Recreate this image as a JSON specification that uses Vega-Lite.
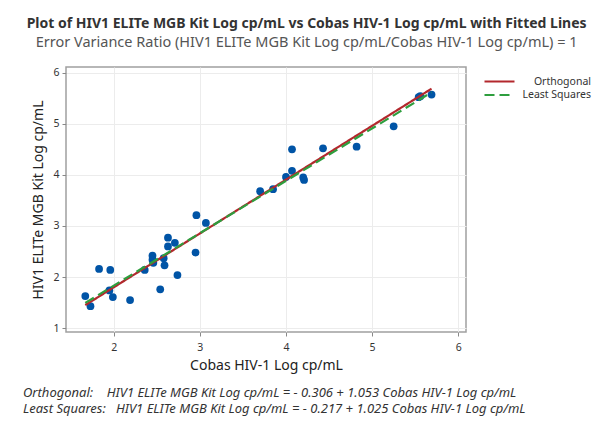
{
  "$schema": "https://vega.github.io/schema/vega-lite/v6.json",
  "background": "white",
  "padding": {"left": 22, "top": 16, "right": 5, "bottom": 5},
  "title": {
    "text": "Plot of HIV1 ELITe MGB Kit Log cp/mL vs Cobas HIV-1 Log cp/mL with Fitted Lines",
    "subtitle": "Error Variance Ratio (HIV1 ELITe MGB Kit Log cp/mL/Cobas HIV-1 Log cp/mL) = 1",
    "anchor": "middle",
    "fontSize": 14,
    "fontWeight": "bold",
    "color": "#333333",
    "subtitleFontSize": 14.5,
    "subtitleColor": "#555555",
    "subtitlePadding": 5,
    "offset": 17,
    "font": "Noto Sans",
    "subtitleFont": "Noto Sans"
  },
  "vconcat": [
    {
      "width": 400,
      "height": 265,
      "title": {
        "text": [
          "Orthogonal:\u00a0\u00a0\u00a0 HIV1 ELITe MGB Kit Log cp/mL = - 0.306 + 1.053 Cobas HIV-1 Log cp/mL",
          "Least Squares:\u00a0\u00a0 HIV1 ELITe MGB Kit Log cp/mL = - 0.217 + 1.025 Cobas HIV-1 Log cp/mL"
        ],
        "orient": "bottom",
        "anchor": "start",
        "frame": "bounds",
        "dx": -9,
        "fontSize": 13,
        "fontStyle": "italic",
        "fontWeight": "normal",
        "color": "#333333",
        "font": "Noto Sans",
        "lineHeight": 16.5,
        "offset": 14
      },
      "layer": [
        {
          "data": {
            "values": [
              {"cobas": 1.67, "elite": 1.63},
              {"cobas": 1.73, "elite": 1.43},
              {"cobas": 1.83, "elite": 2.16},
              {"cobas": 1.96, "elite": 2.14},
              {"cobas": 1.95, "elite": 1.74},
              {"cobas": 1.99, "elite": 1.61},
              {"cobas": 2.19, "elite": 1.55},
              {"cobas": 2.36, "elite": 2.14},
              {"cobas": 2.45, "elite": 2.42},
              {"cobas": 2.45, "elite": 2.34},
              {"cobas": 2.46, "elite": 2.28},
              {"cobas": 2.54, "elite": 1.76},
              {"cobas": 2.58, "elite": 2.37},
              {"cobas": 2.59, "elite": 2.23},
              {"cobas": 2.63, "elite": 2.77},
              {"cobas": 2.63, "elite": 2.60},
              {"cobas": 2.71, "elite": 2.67},
              {"cobas": 2.74, "elite": 2.04},
              {"cobas": 2.95, "elite": 2.48},
              {"cobas": 2.96, "elite": 3.21},
              {"cobas": 3.07, "elite": 3.06},
              {"cobas": 3.70, "elite": 3.68},
              {"cobas": 3.85, "elite": 3.72},
              {"cobas": 4.00, "elite": 3.96},
              {"cobas": 4.07, "elite": 4.50},
              {"cobas": 4.07, "elite": 4.08},
              {"cobas": 4.20, "elite": 3.95},
              {"cobas": 4.21, "elite": 3.90},
              {"cobas": 4.43, "elite": 4.52},
              {"cobas": 4.82, "elite": 4.55},
              {"cobas": 5.25, "elite": 4.95},
              {"cobas": 5.54, "elite": 5.52},
              {"cobas": 5.56, "elite": 5.54},
              {"cobas": 5.69, "elite": 5.57}
            ]
          },
          "mark": {"type": "circle", "size": 60, "color": "#0054a6", "opacity": 1},
          "encoding": {
            "x": {
              "field": "cobas",
              "type": "quantitative",
              "scale": {"domain": [1.446, 6.09], "nice": false, "zero": false},
              "axis": {"values": [2, 3, 4, 5, 6], "format": "d", "title": "Cobas HIV-1 Log cp/mL", "titlePadding": 6, "labelPadding": 6}
            },
            "y": {
              "field": "elite",
              "type": "quantitative",
              "scale": {"domain": [0.926, 6.11], "nice": false, "zero": false},
              "axis": {"values": [1, 2, 3, 4, 5, 6], "format": "d", "title": "HIV1 ELITe MGB Kit Log cp/mL", "titlePadding": 7}
            }
          }
        },
        {
          "data": {
            "values": [
              {"cobas": 1.67, "elite": 1.4525, "method": "Orthogonal"},
              {"cobas": 5.69, "elite": 5.6856, "method": "Orthogonal"},
              {"cobas": 1.67, "elite": 1.4948, "method": "Least Squares"},
              {"cobas": 5.69, "elite": 5.6153, "method": "Least Squares"}
            ]
          },
          "mark": {"type": "line", "strokeWidth": 2.2},
          "encoding": {
            "x": {"field": "cobas", "type": "quantitative"},
            "y": {"field": "elite", "type": "quantitative"},
            "color": {
              "field": "method",
              "type": "nominal",
              "scale": {"domain": ["Orthogonal", "Least Squares"], "range": ["#b3282d", "#2e9e3e"]},
              "legend": {
                "title": null,
                "orient": "none",
                "legendX": 427,
                "legendY": 8,
                "symbolType": "M-3,0H3",
                "symbolSize": 100,
                "symbolStrokeWidth": 2.2,
                "labelAlign": "right",
                "labelOffset": 85,
                "labelFontSize": 10.5,
                "labelFont": "Noto Sans",
                "labelColor": "#333333",
                "rowPadding": 1.5
              }
            },
            "strokeDash": {
              "field": "method",
              "type": "nominal",
              "scale": {"domain": ["Orthogonal", "Least Squares"], "range": [[1, 0], [10, 5]]},
              "legend": null
            }
          }
        }
      ]
    }
  ],
  "config": {
    "font": "Noto Sans",
    "view": {"stroke": "#a0a0a0", "strokeWidth": 1.5},
    "axis": {
      "domain": false,
      "grid": true,
      "gridColor": "#ececec",
      "gridWidth": 1,
      "tickColor": "#888888",
      "tickSize": 4,
      "labelFont": "Noto Sans",
      "labelFontSize": 10.5,
      "labelColor": "#333333",
      "labelPadding": 3,
      "titleFont": "Noto Sans",
      "titleFontSize": 14,
      "titleFontWeight": "normal",
      "titleColor": "#222222"
    },
    "legend": {"symbolStrokeWidth": 2.2}
  }
}
